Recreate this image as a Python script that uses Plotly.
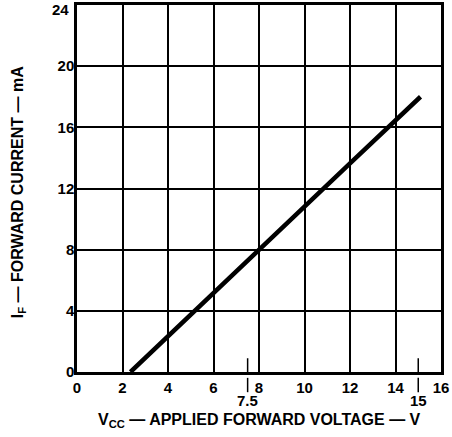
import plotly.graph_objects as go

# Data
vcc = [2.35, 4.0, 8.0, 12.0, 15.1]
i_f = [0.0, 2.35, 8.0, 13.65, 18.0]

x_ticks = [0, 2, 4, 6, 8, 10, 12, 14, 16]
y_ticks = [0, 4, 8, 12, 16, 20, 24]
extra_x_ticks = [7.5, 15]
extra_x_labels = ["7.5", "15"]

FONT = "Liberation Sans, Arial, sans-serif"
TICK_SIZE = 15

fig = go.Figure()
fig.add_trace(go.Scatter(x=vcc, y=i_f, mode="lines",
                         line=dict(color="black", width=4.5),
                         showlegend=False, hoverinfo="skip"))

shapes = []
annotations = []
for xv, lab in zip(extra_x_ticks, extra_x_labels):
    shapes.append(dict(type="line", xref="x", yref="y", x0=xv, x1=xv, y0=0, y1=0.9,
                       line=dict(color="black", width=1.5)))
    shapes.append(dict(type="line", xref="x", yref="paper", x0=xv, x1=xv, y0=-0.016, y1=-0.055,
                       line=dict(color="black", width=1.5)))
    annotations.append(dict(x=xv, y=-0.079, xref="x", yref="paper", text="<b>%s</b>" % lab,
                            showarrow=False, yanchor="middle",
                            font=dict(family=FONT, size=TICK_SIZE, color="black")))

# top y tick label drawn slightly below its gridline (as in the reference)
y_text = ["<b>%d</b>" % v for v in y_ticks]
top_label = y_text[-1]
y_text[-1] = ""
annotations.append(dict(x=0, y=y_ticks[-1], xref="paper", yref="y", xanchor="right",
                        yanchor="middle", xshift=-6, yshift=-4, text=top_label,
                        showarrow=False, font=dict(family=FONT, size=TICK_SIZE, color="black")))

annotations.append(dict(x=0.5, y=-0.131, xref="paper", yref="paper", yanchor="middle",
                        text="<b>V<sub>CC</sub> — APPLIED FORWARD VOLTAGE — V</b>",
                        showarrow=False, font=dict(family=FONT, size=16, color="black")))
annotations.append(dict(x=-0.162, y=0.49, xref="paper", yref="paper", xanchor="center",
                        textangle=-90,
                        text="<b>I<sub>F</sub> — FORWARD CURRENT — mA</b>",
                        showarrow=False, font=dict(family=FONT, size=16, color="black")))

fig.update_layout(
    width=452, height=437,
    margin=dict(l=77, r=11, t=5, b=65),
    paper_bgcolor="white", plot_bgcolor="white",
    font=dict(family=FONT, color="black"),
    shapes=shapes, annotations=annotations,
    xaxis=dict(range=[0, 16], tickvals=x_ticks,
               ticktext=["<b>%d</b>" % v for v in x_ticks],
               showgrid=True, gridcolor="black", gridwidth=1.5,
               showline=True, linecolor="black", linewidth=2.5, mirror=True,
               ticks="", zeroline=False, fixedrange=True, automargin=False,
               ticklabeloverflow="allow",
               tickfont=dict(family=FONT, size=TICK_SIZE, color="black")),
    yaxis=dict(range=[0, 24], tickvals=y_ticks, ticktext=y_text,
               showgrid=True, gridcolor="black", gridwidth=1.5,
               showline=True, linecolor="black", linewidth=2.5, mirror=True,
               ticks="", zeroline=False, fixedrange=True, automargin=False,
               ticklabeloverflow="allow", ticklabelstandoff=-3,
               tickfont=dict(family=FONT, size=TICK_SIZE, color="black")),
)

fig.write_html("out.html", config={"displayModeBar": False},
               post_script="document.body.style.margin='0';document.body.style.overflow='hidden';")
